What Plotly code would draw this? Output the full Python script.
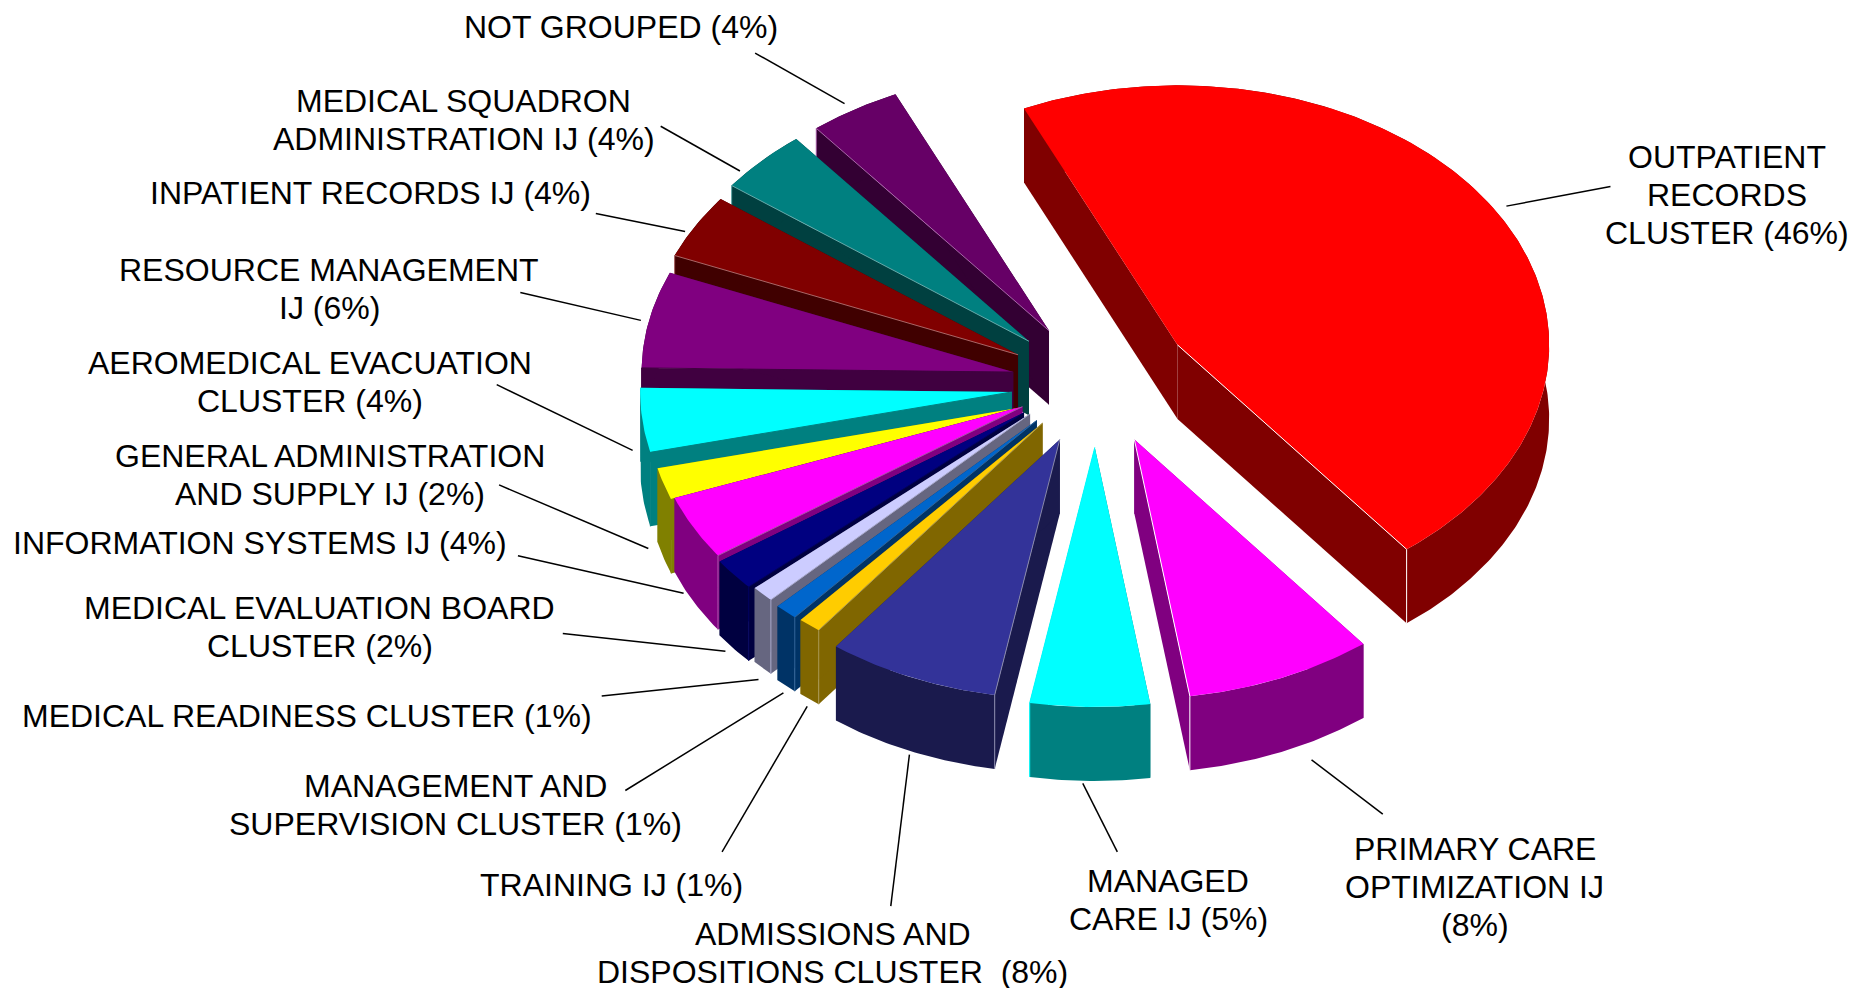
import numpy as np
import plotly.graph_objects as go

# ---- data ----
labels = [
    ["OUTPATIENT", "RECORDS", "CLUSTER (46%)"],
    ["PRIMARY CARE", "OPTIMIZATION IJ", "(8%)"],
    ["MANAGED", "CARE IJ (5%)"],
    ["ADMISSIONS AND", "DISPOSITIONS CLUSTER  (8%)"],
    ["TRAINING IJ (1%)"],
    ["MANAGEMENT AND", "SUPERVISION CLUSTER (1%)"],
    ["MEDICAL READINESS CLUSTER (1%)"],
    ["MEDICAL EVALUATION BOARD", "CLUSTER (2%)"],
    ["INFORMATION SYSTEMS IJ (4%)"],
    ["GENERAL ADMINISTRATION", "AND SUPPLY IJ (2%)"],
    ["AEROMEDICAL EVACUATION", "CLUSTER (4%)"],
    ["RESOURCE MANAGEMENT", "IJ (6%)"],
    ["INPATIENT RECORDS IJ (4%)"],
    ["MEDICAL SQUADRON", "ADMINISTRATION IJ (4%)"],
    ["NOT GROUPED (4%)"],
]
values = [46.3, 8.2, 5.2, 7.5, 1, 1, 1, 2, 4, 2, 4, 6, 4, 4, 4]

# ---- styles / layout ----
top_colors = ["#FF0000", "#FF00FF", "#00FFFF", "#333399", "#FFCC00", "#0066CC", "#CCCCFF",
              "#000080", "#FF00FF", "#FFFF00", "#00FFFF", "#800080", "#800000", "#008080", "#660066"]
wall_colors = ["#800000", "#800080", "#008080", "#1A1A4D", "#806600", "#003366", "#666680",
               "#000040", "#800080", "#808000", "#008080", "#400040", "#400000", "#004040", "#330033"]
edge_colors = ["#FFFFFF", "#FFFFFF", "#00FFFF", "#8888AA", "#AA9955", "#336699", "#AAAACC",
               "#000060", "#AA55AA", "#808000", "#008080", "#400040", "#AA6666", "#66AAAA", "#AA66AA"]
S = 1850 / 1568
CX, CY = 931 * S, 320 * S
RX, RY = 315 * S, 220 * S
PULL = 0.26
DEPTH = 74.0
START = -114.4
label_xy = [
    (1464, 165), (1250, 752), (990, 763), (706, 808), (518, 750), (386, 682), (260, 607),
    (271, 531), (220, 460), (280, 403), (263, 324), (279, 245), (314, 164), (393, 102), (526, 23),
]
leader_out = [
    (1365, 158), (1172, 690), (947, 722), (755, 768), (612, 722), (530, 670), (510, 590),
    (477, 537), (439, 471), (423, 411), (421, 326), (441, 248), (505, 181), (560, 107), (640, 45),
]
leader_nudge = [
    (1, -1), (21, 1), (-8, -2), (1, -3), (6, -5), (5, -5), (2, -4),
    (-1, -8), (5, -13), (4, -2), (6, -2), (7, 7), (0, 14), (-14, 19), (-4, 6),
]
slice_nudge = [
    (-3, 2), (-2, 0), (-2, 2), (0, 0), (4, -6), (3, -6), (1, -9),
    (1, -6), (8, -2), (11, 9), (8, 6), (8, 7), (3, 9), (0, 9), (1, 9),
]
wall_share = [0, 1, 1, 1, 1, 1, 1, 1, 1, 1, 0.5, 0, 0, 0, 0]
edge_side = [1, 1, 1, 0, 0, 0, 0, 0, 0, 0, 0, 0, 0, 0, 0]
LINE_GAP = 38
FONT = dict(family="Liberation Sans, Arial, sans-serif", size=32, color="black")

fig = go.Figure()


def poly(xs, ys, color):
    fig.add_trace(go.Scatter(x=list(xs), y=list(ys), mode="lines", fill="toself", fillcolor=color,
                             line=dict(width=0, color=color), hoverinfo="skip", showlegend=False))


def seg(xs, ys, color, width=1):
    fig.add_trace(go.Scatter(x=list(xs), y=list(ys), mode="lines", line=dict(width=width, color=color),
                             hoverinfo="skip", showlegend=False))


v = np.array(values, float)
bounds = START + 360 * np.concatenate([[0], np.cumsum(v)]) / v.sum()
mids = (bounds[:-1] + bounds[1:]) / 2
order = np.argsort(np.sin(np.radians(mids)))

for i in order:
    t0, t1, m = np.radians(bounds[i]), np.radians(bounds[i + 1]), np.radians(mids[i])
    tx = CX + PULL * RX * np.cos(m) + slice_nudge[i][0] * S
    ty = CY + PULL * RY * np.sin(m) + slice_nudge[i][1] * S
    th = np.linspace(t0, t1, max(8, int(v[i] * 6)))
    ax, ay = tx + RX * np.cos(th), ty + RY * np.sin(th)
    # walls
    poly([tx, ax[0], ax[0], tx], [ty, ay[0], ay[0] + DEPTH, ty + DEPTH], wall_colors[i])
    poly([tx, ax[-1], ax[-1], tx], [ty, ay[-1], ay[-1] + DEPTH, ty + DEPTH], wall_colors[i])
    poly(np.r_[ax, ax[::-1]], np.r_[ay, ay[::-1] + DEPTH], wall_colors[i])
    # top
    poly(np.r_[tx, ax, tx], np.r_[ty, ay, ty], top_colors[i])
    # lit edge between top and the visible radial wall
    j = -1 if edge_side[i] else 0
    seg([tx, ax[j], ax[j]], [ty, ay[j], ay[j] + DEPTH], edge_colors[i], 1)

for i in range(len(values)):
    m = np.radians(mids[i])
    tx = CX + PULL * RX * np.cos(m)
    ty = CY + PULL * RY * np.sin(m)
    ix = tx + 1.02 * RX * np.cos(m) + leader_nudge[i][0] * S
    iy = ty + 1.02 * RY * np.sin(m) + wall_share[i] * DEPTH + 2 + leader_nudge[i][1] * S
    ox, oy = leader_out[i]
    seg([ox * S, ix], [oy * S, iy], "black", 1.5)
    lx, ly = label_xy[i]
    n = len(labels[i])
    for k, line in enumerate(labels[i]):
        fig.add_annotation(x=lx * S, y=ly * S + (k - (n - 1) / 2) * LINE_GAP, text=line, showarrow=False,
                           xanchor="center", yanchor="middle", font=FONT)

fig.update_xaxes(range=[0, 1850], visible=False, fixedrange=True)
fig.update_yaxes(range=[988, 0], visible=False, fixedrange=True)
fig.update_layout(width=1850, height=988, margin=dict(l=0, r=0, t=0, b=0),
                  paper_bgcolor="white", plot_bgcolor="white", showlegend=False)
fig.write_html("out.html", config=dict(displayModeBar=False),
               post_script="document.body.style.margin='0';document.documentElement.style.overflow='hidden';")
